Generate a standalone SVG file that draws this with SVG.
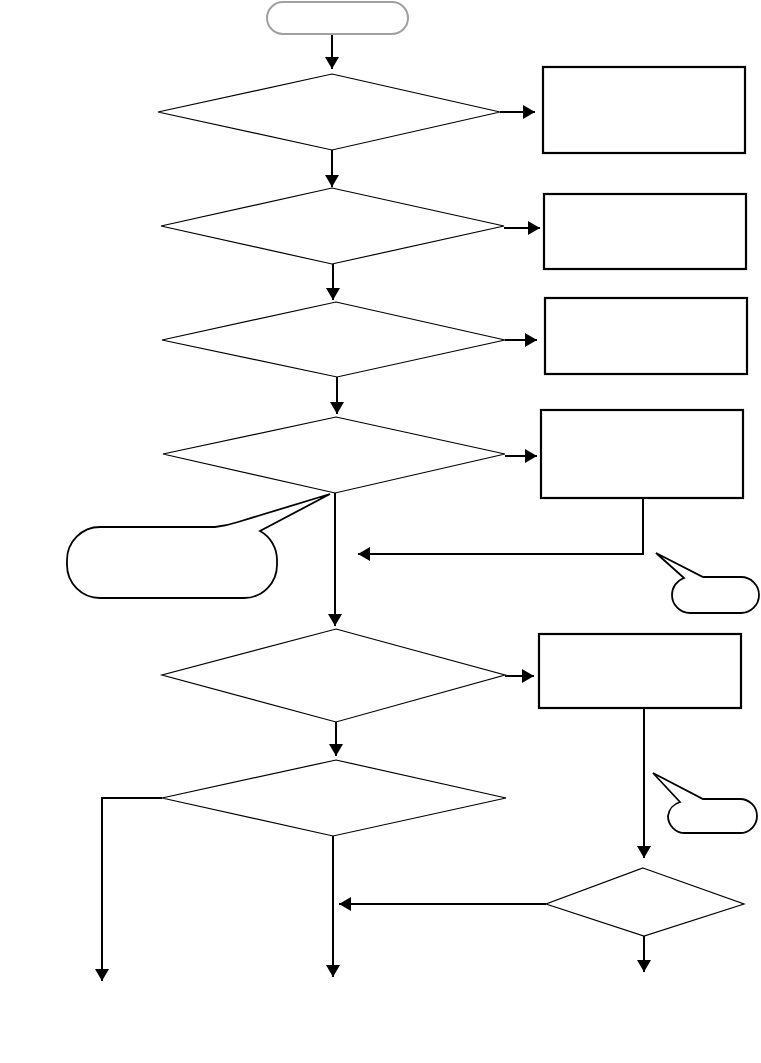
<svg xmlns="http://www.w3.org/2000/svg" width="761" height="1063" viewBox="0 0 761 1063">
<style>
.dia{fill:#fff;stroke:#000;stroke-width:1.2}
.box{fill:#fff;stroke:#000;stroke-width:2.2}
.call{fill:#fff;stroke:#000;stroke-width:1.8;stroke-linejoin:miter}
.con{fill:none;stroke:#000;stroke-width:2;marker-end:url(#ah)}
.plain{fill:none;stroke:#000;stroke-width:2}
</style>
<defs>
<marker id="ah" viewBox="0 0 12 14" refX="12" refY="7" markerWidth="12" markerHeight="14" markerUnits="userSpaceOnUse" orient="auto">
<path d="M0,0 L12,7 L0,14 Z" fill="#000"/>
</marker>
</defs>
<rect width="761" height="1063" fill="#fff"/>
<g id="connectors">
<path class="con" d="M332,34 L332,69"/>
<path class="con" d="M332,150 L332,187"/>
<path class="con" d="M333,264 L333,300"/>
<path class="con" d="M337,377 L337,414"/>
<path class="con" d="M335,493 L335,626"/>
<path class="con" d="M336,722 L336,756"/>
<path class="con" d="M333,836 L333,977"/>
<path class="con" d="M162,798 L102,798 L102,981"/>
<path class="con" d="M546,904 L339,904"/>
<path class="con" d="M644,708 L644,858"/>
<path class="con" d="M644,936 L644,972"/>
<path class="con" d="M643,498 L643,554 L358,554"/>
<path class="con" d="M500,112 L535,112"/>
<path class="con" d="M504,228 L540,228"/>
<path class="con" d="M505,340 L537,340"/>
<path class="con" d="M505,456 L537,456"/>
<path class="con" d="M505,676 L534,676"/>
</g>
<g id="start"><rect x="267" y="2" width="141" height="32" rx="16" ry="16" fill="#fff" stroke="#a0a0a0" stroke-width="2"/></g>
<g id="d1"><polygon class="dia" points="332,74 500,112 332,150 158,112"/></g>
<g id="d2"><polygon class="dia" points="332,188 504,226 332,264 161,226"/></g>
<g id="d3"><polygon class="dia" points="336,302 505,340 337,377 162,340"/></g>
<g id="d4"><polygon class="dia" points="336,417 505,454 335,493 163,454"/></g>
<g id="d5"><polygon class="dia" points="336,629 505,675 336,722 162,675"/></g>
<g id="d6"><polygon class="dia" points="336,760 506,798 333,836 162,798"/></g>
<g id="d7"><polygon class="dia" points="643,868 744,904 644,936 546,904"/></g>
<g id="b1"><rect class="box" x="543" y="67" width="202" height="86"/></g>
<g id="b2"><rect class="box" x="544" y="194" width="202" height="75"/></g>
<g id="b3"><rect class="box" x="545" y="298" width="202" height="76"/></g>
<g id="b4"><rect class="box" x="541" y="410" width="202" height="88"/></g>
<g id="b5"><rect class="box" x="539" y="634" width="202" height="74"/></g>
<g id="c1"><path class="call" d="M100,527 L215,527 Q226,526 238,522 L330,494 L260,531 A33,33 0 0 1 277,560 L277,565 A33,33 0 0 1 244,598 L100,598 A33,33 0 0 1 67,565 L67,560 A33,33 0 0 1 100,527 Z"/></g>
<g id="c2"><path class="call" d="M684,578 L656,553 L703,577 L741,577 A18,18 0 0 1 741,613 L690,613 A18,18 0 0 1 672,595 A18,18 0 0 1 684,578 Z"/></g>
<g id="c3"><path class="call" d="M680,802 L653,773 L703,799 L740,799 A17,17 0 0 1 740,833 L685,833 A17,17 0 0 1 668,816 A17,17 0 0 1 680,802 Z"/></g>
</svg>
